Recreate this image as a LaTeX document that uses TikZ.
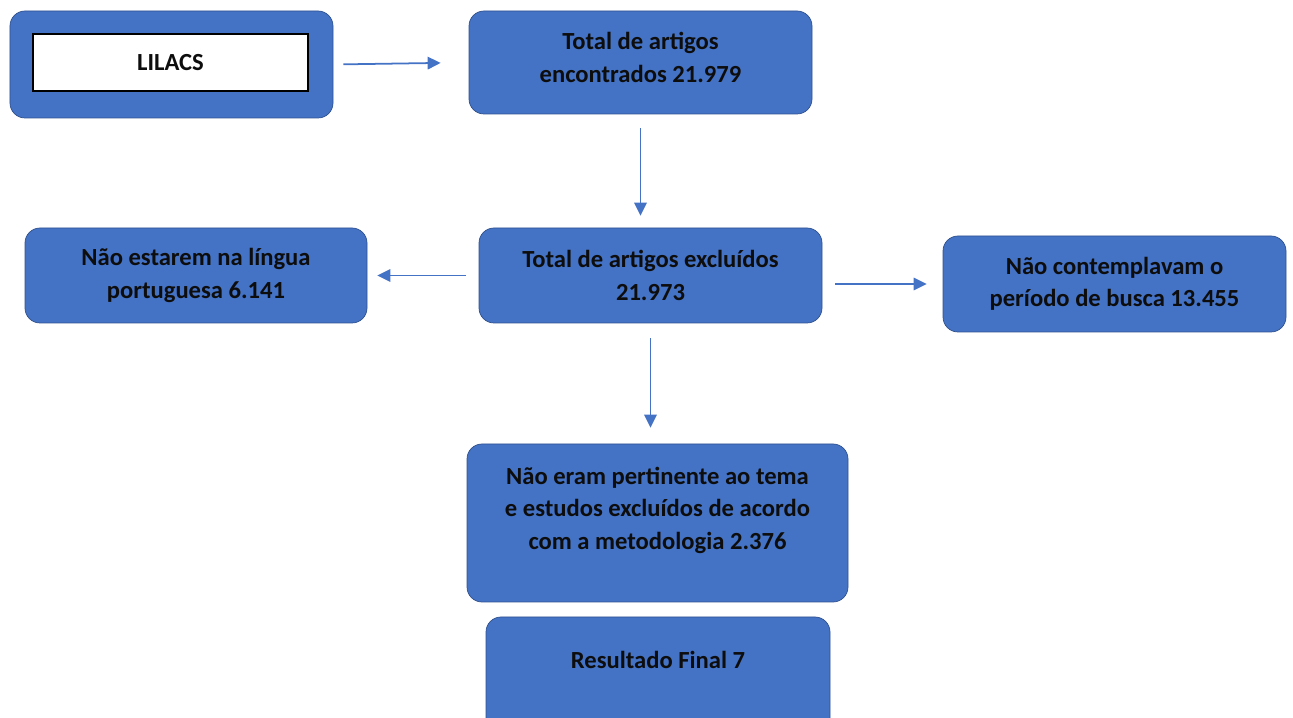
\documentclass[tikz,border=0pt]{standalone}
\usepackage{fontspec}
\setmainfont{Carlito}
\usepackage{tikz}
\usetikzlibrary{calc}
\usetikzlibrary{arrows.meta, positioning}
\definecolor{caixa}{HTML}{4472C4}
\definecolor{borda}{HTML}{2F528F}

\begin{document}
\begin{tikzpicture}[every node/.style={rectangle,rounded corners=0.3cm,fill=caixa,draw=borda,line width=0.4pt,align=center,text=black!95,font=\bfseries\fontsize{14pt}{18.5pt}\selectfont,minimum width=6.86cm,minimum height=1.9cm,inner sep=0pt},
    seta/.style={draw=caixa,line width=1pt,-{Triangle[length=2.6mm,width=2.5mm]}}]
    \useasboundingbox (0,0) rectangle (25.86,-14.36);
    % base de dados
    \node (lilacs) [minimum width=6.46cm,minimum height=2.14cm] at (3.43,-1.29) {};
    \node (nome) [rounded corners=0pt,fill=white,draw=black,line width=0.8pt,minimum width=5.5cm,minimum height=1.14cm] at (3.41,-1.25) {LILACS};
    % caixas do fluxo
    \node (encontrados) [minimum height=2.06cm,text depth=0.2cm] at (12.81,-1.25) {Total de artigos\\encontrados 21.979};
    \node (excluidos) at (13.01,-5.51) {Total de artigos excluídos\\21.973};
    \node (lingua) [minimum width=6.84cm] at (3.92,-5.51) {Não estarem na língua\\portuguesa 6.141};
    \node (periodo) [minimum height=1.92cm] at (22.29,-5.68) {Não contemplavam o\\período de busca 13.455};
    \node (tema) [minimum width=7.62cm,minimum height=3.16cm,text depth=0.6cm] at (13.15,-10.46) {Não eram pertinente ao tema\\e estudos excluídos de acordo\\com a metodologia 2.376};
    \node (final) [minimum width=6.88cm,minimum height=2.36cm,text depth=0.64cm] at (13.16,-13.52) {Resultado Final 7};
    % setas
    \draw[seta,shorten <=0.2cm,shorten >=0.56cm] (lilacs.east) -- (encontrados.west);
    \draw[seta,shorten <=0.28cm,shorten >=0.24cm] (encontrados.south) -- (encontrados.south |- excluidos.north);
    \draw[seta,shorten <=0.26cm,shorten >=0.2cm] (excluidos.west) -- (lingua.east);
    \draw[seta,shorten <=0.26cm,shorten >=0.32cm] (excluidos.east |- periodo.west) -- (periodo.west);
    \draw[seta,shorten <=0.3cm,shorten >=0.32cm] (excluidos.south) -- (excluidos.south |- tema.north);
\end{tikzpicture}
\end{document}
